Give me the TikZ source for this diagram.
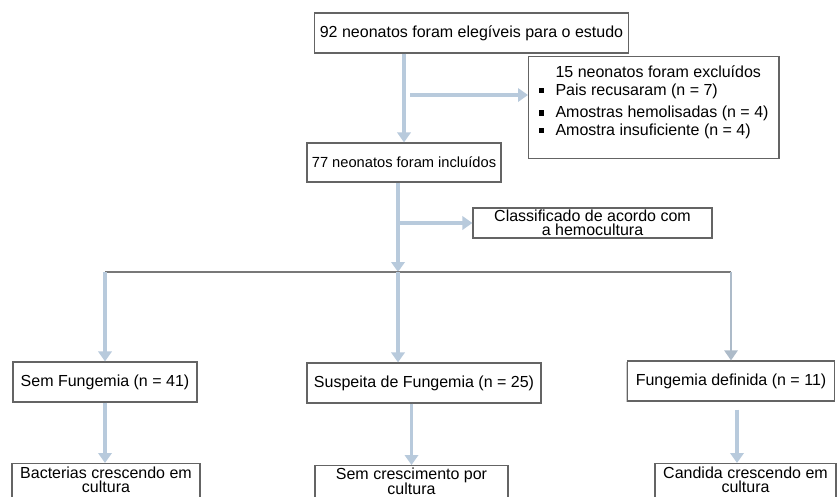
\documentclass[tikz,border=0pt]{standalone}
\usepackage{fontspec}
\setmainfont{Liberation Sans}
\usetikzlibrary{arrows.meta,shadows}

\definecolor{flowblue}{RGB}{184,202,220}
\definecolor{boxgray}{RGB}{100,100,100}
\definecolor{branchgray}{RGB}{120,120,120}

\newcommand{\sqbullet}{\rule[1.6pt]{4pt}{4pt}\hspace{8.3pt}}

\begin{document}
\begin{tikzpicture}[x=0.75pt,y=-0.75pt,>={Triangle[width=10pt,length=7.5pt]},
                    font=\fontsize{12}{14}\selectfont,
                    box/.style={draw=boxgray,line width=0.9pt,fill=white,inner sep=2pt,
                                drop shadow={shadow xshift=-0.8pt,shadow yshift=-0.8pt,fill=black!40}},
                    tight/.style={align=center,font={\fontsize{12}{#1}\selectfont\lineskiplimit=-20pt}},
                    flow/.style={->,draw=flowblue,line width=2.4pt},
                    thinflow/.style={->,draw=flowblue!80!gray,line width=1.4pt},
                    branch/.style={draw=branchgray,line width=1pt}]

  \useasboundingbox (0,0) rectangle (837,496);
  \clip (0,0) rectangle (837,496);

  \node[box,minimum width=235pt,minimum height=30pt] (elig) at (471.5,33) {92 neonatos foram elegíveis para o estudo};
  \node[box,anchor=north west,minimum width=187.5pt,inner xsep=7.9pt,inner ysep=7pt,align=left,
        font=\fontsize{12}{13}\selectfont] (excl) at (528,56)
        {\hspace*{12.3pt}15 neonatos foram excluídos\\
         \sqbullet Pais recusaram (n = 7)\\[4pt]
         \sqbullet Amostras hemolisadas (n = 4)\\
         \sqbullet Amostra insuficiente (n = 4)\rule[-10.4pt]{0pt}{10.4pt}};

  \node[box,minimum width=145.5pt,minimum height=29.25pt,font=\fontsize{11}{13}\selectfont] (incl) at (404,162.5) {77 neonatos foram incluídos};
  \node[box,tight=10.5pt,minimum width=179.25pt,minimum height=22.5pt,inner ysep=1pt] (class) at (592.5,223) {Classificado de acordo com\\a hemocultura};

  \node[box,minimum width=138pt,minimum height=30pt] (sem) at (105,382) {Sem Fungemia (n = 41)};
  \node[box,minimum width=175.5pt,minimum height=30pt] (susp) at (424,383) {Suspeita de Fungemia (n = 25)};
  \node[box,minimum width=155.25pt,minimum height=30pt] (def) at (731,381) {Fungemia definida (n = 11)};

  \node[box,tight=10.5pt,anchor=north,minimum width=141pt,inner ysep=2.6pt] (bac) at (106,463) {Bacterias crescendo em\\cultura\rule[-14pt]{0pt}{14pt}};
  \node[box,tight=11pt,anchor=north,minimum width=144.75pt,inner ysep=2pt] (cresc) at (411.5,465) {Sem crescimento por\\cultura\rule[-14pt]{0pt}{14pt}};
  \node[box,tight=10.5pt,anchor=north,minimum width=135.75pt,inner ysep=2.6pt] (cand) at (745.5,463) {Candida crescendo em\\cultura\rule[-14pt]{0pt}{14pt}};

  \coordinate (toexcl) at (410,95);
  \coordinate (toclass) at (398,223);
  \coordinate (split) at (398,272);
  \coordinate (defout) at ([xshift=4.5pt,yshift=-6pt]def.south);

  \draw[flow] (elig.south -| incl.north) -- (incl.north);
  \draw[flow] (toexcl) -- (toexcl -| excl.west);
  \draw[flow] (incl.south -| split) -- (split);
  \draw[flow] (toclass) -- (class.west);

  \draw[branch] (sem.north |- split) -- (def.north |- split);
  \draw[flow] (sem.north |- split) -- (sem.north);
  \draw[flow] (split) -- (split |- susp.north);
  \draw[thinflow] (def.north |- split) -- (def.north);

  \draw[flow] (sem.south) -- (sem.south |- bac.north);
  \draw[flow] (cresc.north |- susp.south) -- (cresc.north);
  \draw[flow] (defout) -- (defout |- cand.north);

\end{tikzpicture}
\end{document}
